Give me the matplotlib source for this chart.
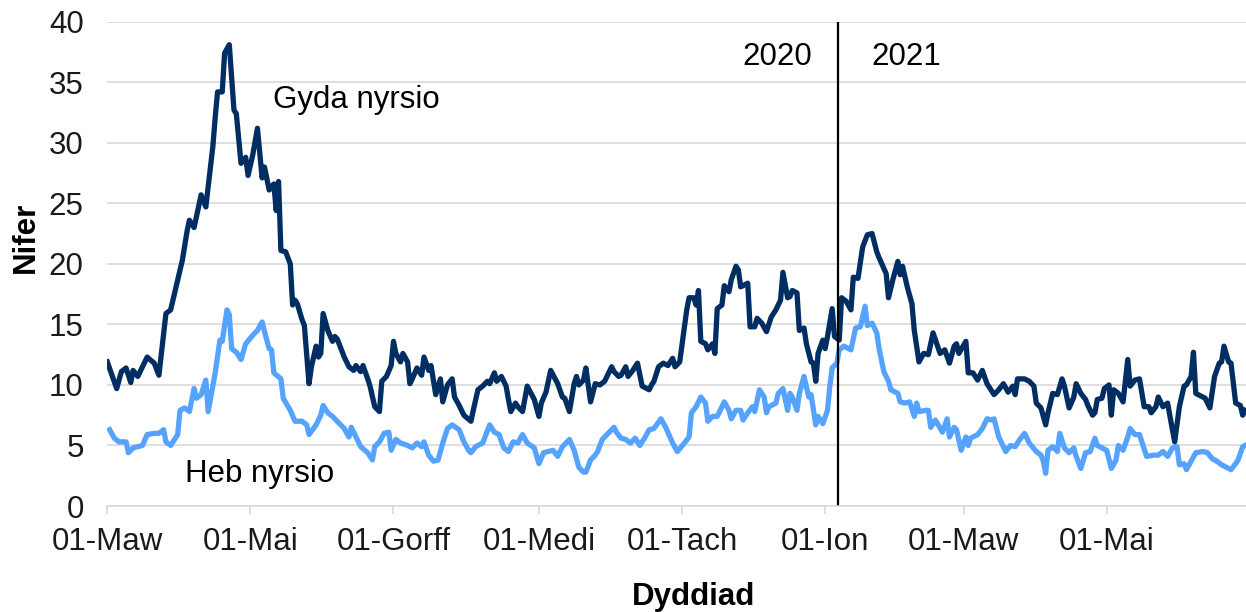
import pandas as pd
import matplotlib
matplotlib.use('Agg')
import matplotlib.pyplot as plt

plt.rcParams['font.family'] = ['Liberation Sans', 'DejaVu Sans']

start = pd.Timestamp('2020-03-01')

# day offsets from 01-Mar-2020 and values
gyda_days = [0, 4, 6, 8, 10, 11, 13, 17, 20, 22, 25, 27, 32, 34, 35, 37, 40, 42, 45, 46,
             47, 49, 50, 52, 54, 55, 57, 59, 60, 62, 64, 66, 67, 69, 71, 72, 73, 74, 76, 78,
             79, 80, 81, 83, 84, 86, 87, 89, 90, 91, 92, 94, 96, 97, 98, 101, 103, 105, 106, 108,
             109, 111, 112, 114, 116, 117, 119, 121, 122, 123, 125, 126, 128, 129, 130, 132, 134, 135, 137, 138,
             140, 142, 143, 145, 147, 148, 150, 152, 155, 156, 158, 160, 162, 163, 165, 166, 168, 170, 171, 172,
             174, 175, 177, 179, 182, 184, 185, 187, 189, 192, 194, 195, 197, 199, 200, 201, 203, 204, 206, 208,
             210, 212, 214, 215, 216, 218, 219, 221, 222, 224, 226, 228, 231, 232, 233, 235, 237, 239, 241, 242,
             244, 246, 247, 248, 250, 251, 252, 253, 255, 256, 258, 259, 260, 262, 263, 265, 266, 268, 269, 270,
             273, 274, 276, 277, 279, 281, 283, 285, 287, 288, 290, 291, 292, 294, 295, 297, 298, 300, 301, 302,
             303, 305, 306, 307, 309, 310, 312, 313, 315, 317, 318, 320, 322, 324, 326, 328, 329, 332, 333, 335,
             337, 338, 339, 341, 343, 344, 346, 348, 350, 352, 355, 357, 359, 361, 362, 363, 366, 367, 369, 371,
             373, 375, 378, 380, 382, 384, 386, 387, 388, 391, 393, 395, 396, 398, 400, 401, 403, 405, 407, 408,
             410, 412, 413, 415, 417, 418, 420, 421, 422, 424, 425, 427, 428, 429, 431, 433, 435, 436, 438, 440,
             442, 444, 445, 447, 448, 450, 452, 453, 455, 457, 459, 460, 462, 463, 464, 467, 468, 470, 472, 474,
             475, 476, 478, 479, 481, 483, 484, 485]
gyda_vals = [11.9, 9.7, 11.1, 11.4, 10.2, 11.2, 10.7, 12.3, 11.8, 10.8, 15.9, 16.2, 20.3, 22.7, 23.6, 23.0, 25.7, 24.7, 29.7, 32.1,
             34.2, 34.2, 37.4, 38.1, 32.7, 32.4, 28.3, 28.8, 27.3, 29.0, 31.2, 27.1, 28.0, 26.1, 26.6, 24.4, 26.8, 21.1, 21.0, 20.0,
             16.6, 17.0, 16.7, 15.4, 14.9, 10.1, 11.5, 13.2, 12.3, 12.6, 15.9, 14.5, 13.6, 14.0, 13.8, 12.3, 11.5, 11.2, 11.6, 11.1,
             11.6, 10.5, 9.9, 8.2, 7.8, 10.3, 10.7, 11.6, 13.6, 12.6, 11.9, 12.6, 11.9, 10.1, 10.5, 11.4, 10.8, 12.3, 11.2, 11.6,
             9.2, 10.5, 8.6, 10.0, 10.5, 9.0, 8.3, 7.5, 7.0, 7.9, 9.6, 9.9, 10.3, 10.1, 11.0, 10.3, 10.7, 9.9, 8.8, 7.8,
             8.5, 8.2, 7.8, 9.9, 8.8, 7.4, 8.5, 9.4, 11.2, 10.1, 9.0, 8.9, 7.8, 10.1, 10.7, 10.0, 10.4, 11.4, 8.6, 10.1,
             10.0, 10.3, 11.1, 11.5, 11.1, 10.7, 10.8, 11.5, 10.7, 11.2, 11.8, 9.9, 9.6, 10.0, 10.3, 11.5, 11.8, 11.6, 12.2, 11.5,
             11.9, 14.8, 16.2, 17.2, 17.2, 16.6, 17.8, 13.6, 13.4, 12.9, 13.4, 12.6, 16.3, 16.6, 18.2, 17.7, 18.7, 19.8, 19.5, 18.1,
             18.4, 14.8, 14.8, 15.5, 15.1, 14.4, 15.6, 16.2, 17.0, 19.3, 17.2, 17.3, 17.8, 17.6, 14.5, 14.7, 13.4, 11.9, 11.8, 10.3,
             12.6, 13.7, 13.0, 14.0, 16.3, 14.0, 13.7, 17.2, 16.9, 16.2, 18.9, 18.8, 21.4, 22.4, 22.5, 21.0, 20.5, 19.2, 17.2, 18.8,
             20.2, 19.1, 19.8, 18.1, 16.7, 14.5, 11.9, 12.6, 12.5, 14.3, 12.6, 12.9, 11.8, 13.2, 13.4, 12.6, 13.6, 11.0, 11.0, 10.4,
             11.2, 10.1, 9.2, 9.6, 10.1, 9.4, 9.9, 9.2, 10.5, 10.5, 10.3, 9.9, 8.5, 8.1, 6.7, 7.7, 9.3, 9.2, 10.5, 9.9,
             8.1, 9.0, 10.1, 9.3, 8.8, 8.3, 7.5, 7.7, 8.8, 8.9, 9.7, 10.0, 7.5, 9.6, 9.3, 8.6, 12.1, 9.9, 10.4, 10.5,
             8.2, 8.2, 7.7, 8.2, 9.0, 8.2, 8.5, 7.4, 5.3, 8.2, 9.9, 10.0, 10.7, 12.7, 9.3, 9.0, 8.9, 8.1, 10.7, 11.8,
             11.9, 13.2, 11.9, 11.8, 8.5, 8.3, 7.5, 7.9]

heb_days = [1, 3, 5, 8, 9, 11, 13, 15, 17, 20, 22, 24, 25, 27, 30, 31, 33, 35, 37, 38,
            40, 42, 43, 46, 48, 49, 51, 52, 53, 55, 57, 59, 62, 64, 66, 67, 69, 70, 71, 74,
            75, 78, 80, 83, 85, 86, 89, 91, 92, 94, 96, 99, 101, 103, 104, 106, 108, 111, 113, 114,
            116, 118, 120, 121, 123, 125, 128, 130, 132, 134, 135, 137, 139, 141, 143, 145, 147, 150, 152, 154,
            155, 157, 160, 163, 165, 167, 169, 171, 173, 175, 177, 179, 182, 184, 186, 188, 190, 192, 194, 197,
            199, 201, 203, 204, 206, 208, 209, 211, 214, 216, 217, 219, 221, 223, 225, 227, 229, 231, 233, 236,
            238, 241, 243, 246, 248, 249, 251, 253, 255, 256, 258, 260, 263, 265, 266, 268, 270, 271, 273, 275,
            276, 278, 280, 281, 282, 285, 286, 288, 290, 291, 292, 294, 295, 297, 299, 300, 302, 303, 305, 307,
            308, 309, 311, 312, 314, 317, 319, 321, 323, 324, 326, 328, 329, 331, 333, 334, 337, 338, 340, 342,
            344, 345, 346, 349, 350, 351, 353, 356, 358, 359, 361, 362, 364, 366, 367, 368, 371, 373, 375, 377,
            378, 380, 381, 383, 385, 387, 389, 391, 393, 396, 398, 399, 400, 401, 403, 405, 406, 408, 410, 412,
            413, 415, 417, 419, 421, 422, 424, 426, 428, 430, 431, 433, 435, 436, 438, 440, 441, 443, 446, 448,
            450, 452, 454, 456, 457, 459, 460, 462, 464, 467, 469, 471, 473, 475, 477, 479, 481, 482, 484, 485]
heb_vals = [6.3, 5.6, 5.3, 5.3, 4.4, 4.8, 4.9, 5.0, 5.9, 6.0, 6.0, 6.3, 5.3, 5.0, 5.9, 7.9, 8.1, 7.8, 9.7, 8.9,
            9.2, 10.4, 7.8, 11.0, 13.7, 13.6, 16.2, 15.8, 13.0, 12.7, 12.1, 13.4, 14.1, 14.5, 15.2, 14.4, 13.0, 12.9, 11.0, 10.5,
            8.9, 7.9, 7.0, 7.0, 6.7, 5.9, 6.7, 7.5, 8.3, 7.7, 7.4, 6.8, 6.4, 5.7, 6.5, 5.7, 4.9, 4.4, 3.8, 4.9,
            5.3, 6.0, 6.1, 4.6, 5.5, 5.2, 5.0, 4.8, 5.2, 4.9, 5.3, 4.2, 3.7, 3.8, 5.2, 6.4, 6.7, 6.3, 5.3, 4.6,
            4.4, 4.9, 5.2, 6.7, 6.1, 5.9, 4.8, 4.5, 5.3, 5.2, 5.9, 5.2, 4.8, 3.5, 4.4, 4.5, 4.6, 4.1, 4.9, 5.5,
            4.6, 3.2, 2.8, 2.8, 3.8, 4.2, 4.5, 5.5, 6.1, 6.5, 6.1, 5.6, 5.5, 5.2, 5.6, 5.0, 5.6, 6.3, 6.4, 7.2,
            6.5, 5.2, 4.5, 5.2, 5.7, 7.7, 8.2, 9.0, 8.5, 7.0, 7.4, 7.4, 8.6, 7.9, 7.2, 7.9, 7.9, 7.1, 7.7, 8.2,
            7.8, 9.6, 9.0, 7.7, 8.2, 8.5, 9.3, 9.7, 7.9, 9.3, 9.0, 7.9, 9.3, 10.7, 9.0, 9.2, 6.7, 7.4, 6.8, 7.9,
            9.9, 11.4, 11.8, 12.9, 13.2, 12.9, 14.7, 14.8, 16.5, 14.9, 15.1, 14.3, 13.0, 11.1, 10.3, 9.6, 9.3, 8.6, 8.5, 8.6,
            7.4, 8.5, 7.8, 7.9, 7.9, 6.5, 7.1, 6.1, 7.2, 5.7, 6.5, 6.3, 4.6, 5.7, 5.0, 5.6, 5.9, 6.4, 7.2, 7.1,
            7.2, 5.7, 5.3, 4.5, 5.0, 4.9, 5.5, 6.0, 5.2, 4.5, 4.2, 3.7, 2.7, 4.6, 4.9, 4.5, 6.0, 4.8, 4.4, 4.8,
            4.1, 3.1, 4.4, 4.5, 5.6, 5.0, 4.8, 4.6, 3.1, 3.8, 5.0, 4.6, 5.7, 6.4, 5.9, 5.9, 5.3, 4.1, 4.2, 4.2,
            4.5, 4.1, 4.8, 4.9, 3.4, 3.5, 3.0, 3.7, 4.4, 4.5, 4.4, 3.9, 3.7, 3.4, 3.2, 3.0, 3.5, 3.8, 4.9, 5.0]

tick_dates = ['2020-03-01', '2020-05-01', '2020-07-01', '2020-09-01', '2020-11-01',
              '2021-01-01', '2021-03-01', '2021-05-01']
tick_labels = ['01-Maw', '01-Mai', '01-Gorff', '01-Medi', '01-Tach', '01-Ion', '01-Maw', '01-Mai']

gyda_x = start + pd.to_timedelta(gyda_days, unit='D')
heb_x = start + pd.to_timedelta(heb_days, unit='D')

fs = 22.5

fig = plt.figure(figsize=(12.46, 6.12), dpi=100)
ax = fig.add_axes([107.3 / 1246, 1 - 506 / 612, 1138.7 / 1246, 484.3 / 612])

ax.plot(heb_x, heb_vals, color='#55a3ff', lw=3.8, solid_joinstyle='round')
ax.plot(gyda_x, gyda_vals, color='#002d62', lw=3.8, solid_joinstyle='round')

# split between the two years
split = pd.Timestamp('2021-01-06 14:00')
ax.axvline(split, color='black', lw=1.6)

ax.set_ylim(0, 40)
ax.set_xlim(start, start + pd.Timedelta(days=485.4))
ax.set_yticks(range(0, 41, 5))
ax.set_xticks(pd.to_datetime(tick_dates))
ax.set_xticklabels(tick_labels)

ax.grid(axis='y', color='#d9d9d9', lw=1.2)
ax.set_axisbelow(True)
for s in ['left', 'right', 'top']:
    ax.spines[s].set_visible(False)
ax.spines['bottom'].set_color('#d9d9d9')
ax.spines['bottom'].set_linewidth(1.2)
ax.tick_params(axis='y', length=0, pad=17, labelsize=fs, labelcolor='#1a1a1a')
ax.tick_params(axis='x', length=6, width=1.2, color='#d9d9d9', pad=9, labelsize=fs, labelcolor='#1a1a1a')

ax.set_ylabel('Nifer', fontsize=fs, fontweight='bold')
ax.yaxis.label.set_va('center')
ax.yaxis.set_label_coords(-0.0715, 0.555)
ax.set_xlabel('Dyddiad', fontsize=fs, fontweight='bold')
ax.xaxis.label.set_va('center')
ax.xaxis.set_label_coords(0.515, -0.187)

ax.text(start + pd.Timedelta(days=70.5), 32.9, 'Gyda nyrsio', fontsize=fs, va='baseline')
ax.text(start + pd.Timedelta(days=33), 2.0, 'Heb nyrsio', fontsize=fs, va='baseline')
ax.text(start + pd.Timedelta(days=300.3), 36.4, '2020', fontsize=fs, va='baseline', ha='right')
ax.text(start + pd.Timedelta(days=325.8), 36.4, '2021', fontsize=fs, va='baseline', ha='left')

fig.savefig('out.png', dpi=100)
